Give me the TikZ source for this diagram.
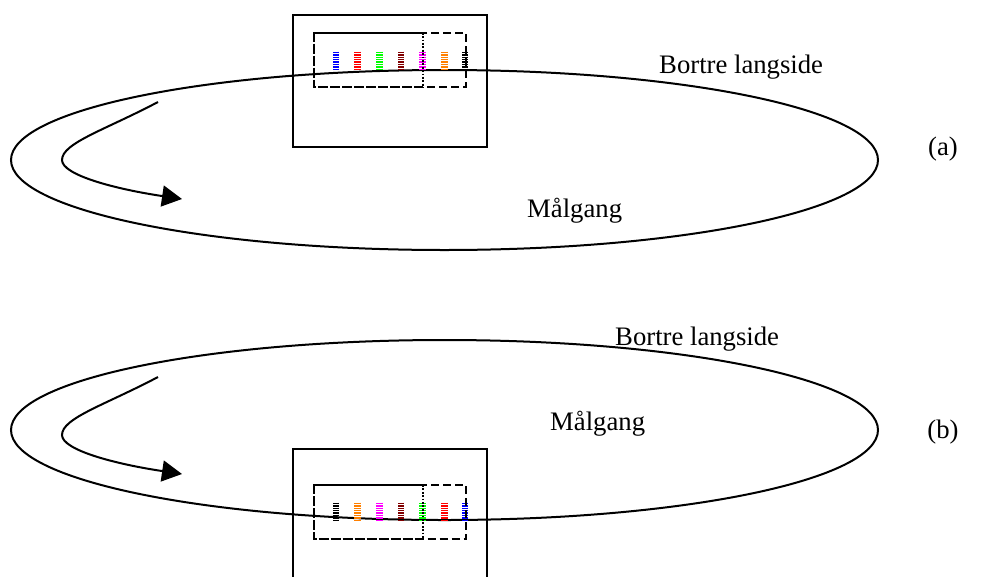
\documentclass[tikz,border=0pt]{standalone}
\usepackage{fontspec}
\setmainfont{Liberation Serif}
\usetikzlibrary{arrows.meta}

\definecolor{laneblue}{RGB}{0,0,255}
\definecolor{lanered}{RGB}{255,0,0}
\definecolor{lanegreen}{RGB}{0,255,0}
\definecolor{lanemaroon}{RGB}{128,0,0}
\definecolor{lanemagenta}{RGB}{255,0,255}
\definecolor{laneorange}{RGB}{255,128,0}

\tikzset{
  track/.style={line width=2pt},
  frame/.style={line width=2pt},
  zonebig/.style={line width=2.2pt, dash pattern=on 8pt off 4pt},
  zonesmall/.style={line width=2.2pt, dash pattern=on 10pt off 2pt},
  zonesplit/.style={line width=2.2pt, dash pattern=on 1.8pt off 1.6pt},
  lane/.style={line width=6.5pt, dash pattern=on 1.5pt off 0.9pt},
  dirarrow/.style={line width=2pt, -{Triangle[length=20pt,width=21pt]}},
  label/.style={font=\fontsize{26.7}{32}\selectfont, inner sep=0pt}
}

\begin{document}
\begin{tikzpicture}[x=1pt,y=-1pt]
\useasboundingbox (0,0) rectangle (984,576);
\clip (0,0) rectangle (984,576);

% ---------- (a) ----------
\draw[track] (444.5,160) ellipse [x radius=433.5pt, y radius=90pt];
\draw[frame] (293,15) rectangle (487,147);

% running lanes
\draw[lane, draw=laneblue]    (336,51.7) -- (336,70);
\draw[lane, draw=lanered]     (357.7,51.7) -- (357.7,70);
\draw[lane, draw=lanegreen]   (379.7,51.7) -- (379.7,70);
\draw[lane, draw=lanemaroon]  (401,51.7) -- (401,70);
\draw[lane, draw=lanemagenta] (422.7,51.7) -- (422.7,70);
\draw[lane, draw=laneorange]  (444.3,51.7) -- (444.3,70);
\draw[lane, draw=black]       (465,51.7) -- (465,70);

% zones
\draw[zonebig] (314,32.7) rectangle (466,87.3);
\draw[zonesmall] (423,32.7) -- (314,32.7) -- (314,87.3) -- (423,87.3);
\draw[zonesplit] (422.7,32.7) -- (422.7,87.3);

\coordinate (a1) at (158,102);
\coordinate (a2) at (62,160);
\coordinate (a3) at (182,199);
\draw[dirarrow] (a1) .. controls (105,130) and (62,143) .. (a2)
                     .. controls (62,175) and (115,189) .. (a3);

\node[label, anchor=base west] (aback) at (659,73) {Bortre langside};
\node[label, anchor=base west] (afinish) at (527,217) {Målgang};
\node[label] (atag) at (943,149) {(a)};

% ---------- (b) ----------
\draw[track] (444.5,430) ellipse [x radius=433.5pt, y radius=90pt];
\draw[frame] (293,449) rectangle (487,600);

\draw[lane, draw=black]       (336,502.7) -- (336,520);
\draw[lane, draw=laneorange]  (357.7,502.7) -- (357.7,520);
\draw[lane, draw=lanemagenta] (379.7,502.7) -- (379.7,520);
\draw[lane, draw=lanemaroon]  (401,502.7) -- (401,520);
\draw[lane, draw=lanegreen]   (422.7,502.7) -- (422.7,520);
\draw[lane, draw=lanered]     (444.3,502.7) -- (444.3,520);
\draw[lane, draw=laneblue]    (465,502.7) -- (465,520);

\draw[zonebig] (314,485) rectangle (466,539.3);
\draw[zonesmall] (423,485) -- (314,485) -- (314,539.3) -- (423,539.3);
\draw[zonesplit] (422.7,485) -- (422.7,539.3);

\coordinate (b1) at (158,377);
\coordinate (b2) at (62,435);
\coordinate (b3) at (182,474);
\draw[dirarrow] (b1) .. controls (105,405) and (62,418) .. (b2)
                     .. controls (62,450) and (115,464) .. (b3);

\node[label, anchor=base west] (bback) at (615,345) {Bortre langside};
\node[label, anchor=base west] (bfinish) at (550,430) {Målgang};
\node[label] (btag) at (943,432) {(b)};
\end{tikzpicture}
\end{document}
